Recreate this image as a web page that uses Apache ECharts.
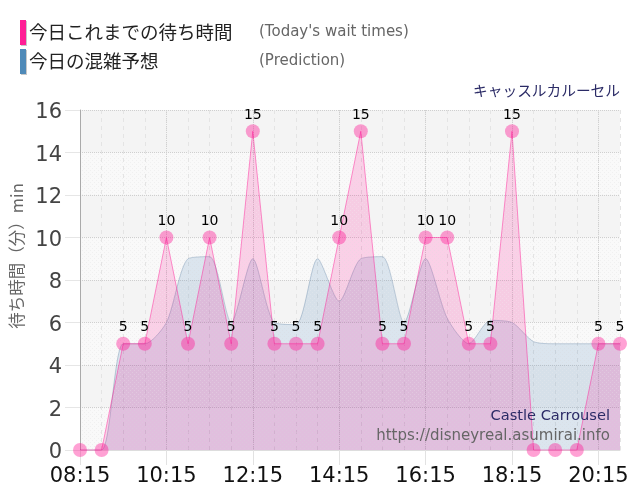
<!DOCTYPE html>
<html><head><meta charset="utf-8">
<style>html,body{margin:0;padding:0;background:#fff}#c{width:640px;height:500px}</style>
<script src="https://cdn.jsdelivr.net/npm/echarts@6/dist/echarts.min.js"></script>
</head><body><div id="c"></div>
<script>
const times = ['08:15','08:45','09:15','09:45','10:15','10:45','11:15','11:45','12:15','12:45','13:15','13:45','14:15','14:45','15:15','15:45','16:15','16:45','17:15','17:45','18:15','18:45','19:15','19:45','20:15','20:45'];
const waitTimes = [0,0,5,5,10,5,10,5,15,5,5,5,10,15,5,5,10,10,5,5,15,0,0,0,5,5];
const prediction = [0,0,5,5,6,9,9.1,6,9,6,5.9,9,7,9,9.1,6,9,6.2,5,6.1,6,5.1,5,5,5,5];
const yTicks = [0,2,4,6,8,10,12,14,16];
const legendNames = ['今日これまでの待ち時間','今日の混雑予想'];
const legendNotes = ["(Today's wait times)",'(Prediction)'];
const yAxisTitle = '待ち時間（分）min';
const titleJa = 'キャッスルカルーセル';
const titleEn = 'Castle Carrousel';
const siteUrl = 'https://disneyreal.asumirai.info';

function dots(bg, dot, step){
  const c = document.createElement('canvas'); c.width = step; c.height = step;
  const x = c.getContext('2d');
  if (bg) { x.fillStyle = bg; x.fillRect(0,0,step,step); }
  x.clearRect(0,0,1,1); x.clearRect(step/2,step/2,1,1);
  x.fillStyle = dot; x.fillRect(0,0,1,1); x.fillRect(step/2,step/2,1,1);
  return {image:c, repeat:'repeat'};
}
const latin = '"DejaVu Sans", Verdana, sans-serif';
const cjk = '"Noto Sans CJK JP", "DejaVu Sans", sans-serif';
const chart = echarts.init(document.getElementById('c'), null, {renderer:'canvas'});
const bandDot = dots('#f9f9f9', '#f0f0f0', 4), bandFlat = '#f4f4f4';
function legendRow(i, y){
  const color = ['#ff1f96','#4f8ab8'][i];
  return [
    {type:'rect', shape:{x:21,y:y+1,width:6,height:25}, style:{fill:'#c8c8c8'}, z:50},
    {type:'rect', shape:{x:20,y:y,width:6,height:25}, style:{fill:color}, z:51},
    {type:'text', style:{x:29,y:y+12,text:legendNames[i],font:'18.5px '+cjk,fill:'#222',verticalAlign:'middle'}, z:51},
    {type:'text', style:{x:259,y:y+12,text:legendNotes[i],font:'15px '+latin,fill:'#666',verticalAlign:'middle'}, z:51}
  ];
}
chart.setOption({
  animation:false,
  backgroundColor:'#fff',
  grid:{left:80,right:20,top:110,bottom:50},
  xAxis:[{
    type:'category', data:times, boundaryGap:false,
    axisLine:{lineStyle:{color:'#ddd'}},
    axisTick:{show:true,interval:3,length:15,alignWithLabel:true,lineStyle:{color:'#e2e2e2'}},
    axisLabel:{interval:(i)=>i%4===0,fontFamily:latin,fontSize:21,color:'#111',margin:16,hideOverlap:false},
    splitLine:{show:true,interval:0,lineStyle:{color:'#e4e4e4',type:[4,4]}}
  },{
    type:'category', data:times, boundaryGap:false, position:'bottom',
    axisLine:{show:false},axisTick:{show:false},axisLabel:{show:false},
    splitLine:{show:true,interval:3,lineStyle:{color:'#d0d0d0',type:[1,1]}}
  }],
  yAxis:{
    type:'value', min:yTicks[0], max:yTicks[yTicks.length-1], interval:2,
    axisLine:{show:true,onZero:false,lineStyle:{color:'#aaa',width:1}},
    axisTick:{show:true,length:15,lineStyle:{color:'#e6e6e6'}},
    axisLabel:{margin:18,formatter:'{n|{value}}',rich:{n:{fontFamily:latin,fontSize:21,color:'#444',padding:[6,0,0,0]}}},
    splitLine:{show:true,lineStyle:{color:'#cfcfcf',type:[1,1]}},
    splitArea:{show:true,areaStyle:{color:[bandDot,bandFlat]}}
  },
  series:[{
    name:legendNames[1], type:'line', data:prediction, smooth:0.25, showSymbol:false, symbol:'none',
    lineStyle:{color:'rgba(70,110,150,0.3)',width:1},
    areaStyle:{color:dots('rgba(70,130,180,0.24)','rgba(70,130,180,0.19)',4)}, z:2
  },{
    name:legendNames[0], type:'line', data:waitTimes, smooth:false, symbol:'circle', symbolSize:14, showAllSymbol:true, clip:false,
    itemStyle:{color:'rgba(255,20,147,0.4)'},
    lineStyle:{color:'rgba(255,20,147,0.45)',width:1},
    areaStyle:{color:dots('rgba(255,20,147,0.25)','rgba(255,20,147,0.19)',4)},
    label:{show:true,position:'top',distance:2,fontFamily:latin,fontSize:14,color:'#000',formatter:p=>p.value>0?String(p.value):''},
    z:3
  }],
  graphic:[
    ...legendRow(0,20), ...legendRow(1,49),
    {type:'text', x:17, y:256, rotation:Math.PI/2, style:{text:yAxisTitle,font:'16.5px '+cjk,fill:'#666',align:'center',verticalAlign:'middle'}, z:60},
    {type:'text', style:{x:620,y:90,text:titleJa,font:'14.7px '+cjk,fill:'#2b2b66',align:'right',verticalAlign:'middle'}, z:60},
    {type:'text', style:{x:610,y:416,text:titleEn,font:'14.6px '+latin,fill:'#2b2b66',align:'right',verticalAlign:'middle'}, z:60},
    {type:'text', style:{x:610,y:436,text:siteUrl,font:'15px '+latin,fill:'#666',align:'right',verticalAlign:'middle'}, z:60}
  ]
});
</script></body></html>
